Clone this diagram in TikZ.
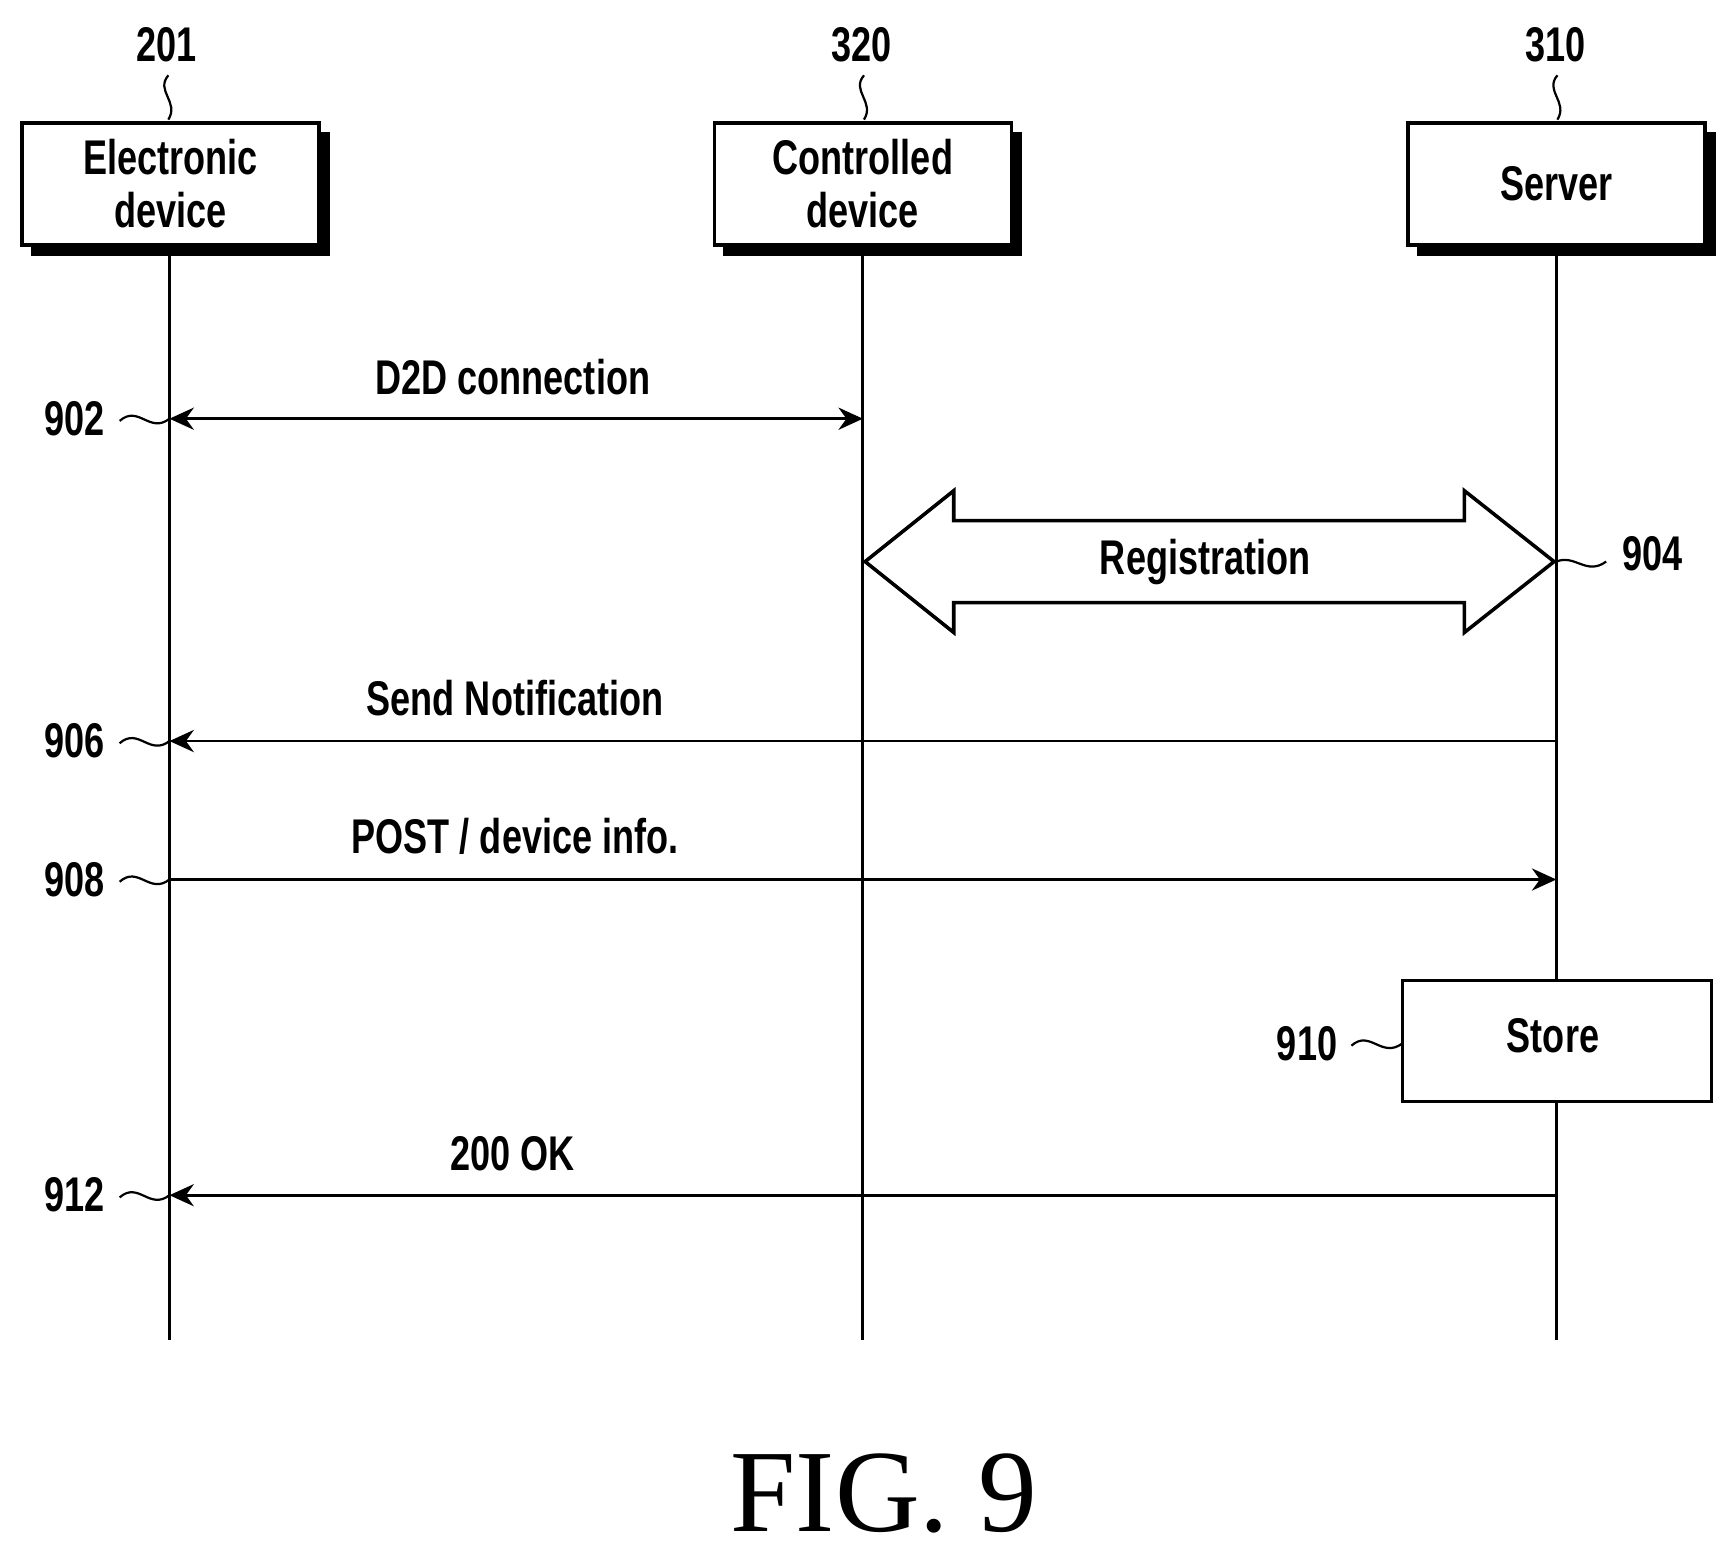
\documentclass[tikz,border=0pt]{standalone}
\usetikzlibrary{arrows.meta}
\usepackage{fontspec}
\setmainfont{Liberation Sans}[FakeStretch=0.74,BoldFeatures={FakeStretch=0.74}]
\newfontfamily\figfont{Liberation Serif}
\begin{document}
\begin{tikzpicture}[x=0.5pt,y=-0.5pt,line width=1.3pt,
  box/.style={draw,line width=1.6pt,fill=white,minimum width=134pt,minimum height=55pt,align=center,font=\bfseries\fontsize{22}{24}\selectfont,inner sep=0pt},
  lbl/.style={font=\bfseries\fontsize{22}{24}\selectfont,inner sep=1pt},
  msg/.style={-{Stealth[length=11pt,width=10pt]},line width=1.3pt},
  tl/.style={line width=1pt}]
\useasboundingbox (0,0) rectangle (1560,1402);
% shadows + boxes
\foreach \x in {154,779,1405}{\fill (\x-126,119) rectangle (\x+144,231);}
\node[box] (ed) at (154,166) {Electronic\\device};
\node[box] (cd) at (779,166) {Controlled\\device};
\node[box] (sv) at (1405,166) {Server};
% lifelines
\coordinate (e0) at (153,221); \coordinate (e1) at (153,1210);
\coordinate (c0) at (779,221); \coordinate (c1) at (779,1210);
\coordinate (s0) at (1405,221); \coordinate (s1) at (1405,1210);
\draw (e0)--(e1); \draw (c0)--(c1); \draw (s0)--(s1);
% ref numbers on top
\node[lbl] (n201) at (150,40) {201};
\node[lbl] (n320) at (778,40) {320};
\node[lbl] (n310) at (1404,40) {310};
\draw[tl] (152,68) .. controls (140,82) and (162,92) .. (152,108);
\draw[tl] (780,68) .. controls (768,82) and (790,92) .. (780,108);
\draw[tl] (1406,68) .. controls (1394,82) and (1416,92) .. (1406,108);
% 902
\coordinate (m1a) at (153,378); \coordinate (m1b) at (779,378);
\draw[{Stealth[length=11pt,width=10pt]}-{Stealth[length=11pt,width=10pt]},line width=1.3pt] (m1a)--(m1b);
\node[lbl] (t902) at (463,340) {D2D connection};
\node[lbl] (n902) at (67,378) {902};
\draw[tl] (108,380) .. controls (125,365) and (135,392) .. (153,378);
% 904 registration
\draw[line width=1.6pt,fill=white] (781,507) -- (861,443) -- (861,470) -- (1322,470) -- (1322,443) -- (1403,507) -- (1322,571) -- (1322,544) -- (861,544) -- (861,571) -- cycle;
\node[lbl] (reg) at (1088,507) {Registration};
\node[lbl] (n904) at (1492,500) {904};
\draw[tl] (1405,507) .. controls (1422,500) and (1432,520) .. (1450,507);
% 906
\coordinate (m3a) at (1405,669); \coordinate (m3b) at (153,669);
\draw[msg] (m3a)--(m3b);
\node[lbl] (t906) at (465,630) {Send Notification};
\node[lbl] (n906) at (67,669) {906};
\draw[tl] (108,671) .. controls (125,656) and (135,683) .. (153,669);
% 908
\coordinate (m4a) at (153,794); \coordinate (m4b) at (1405,794);
\draw[msg] (m4a)--(m4b);
\node[lbl] (t908) at (465,755) {POST / device info.};
\node[lbl] (n908) at (67,794) {908};
\draw[tl] (108,796) .. controls (125,781) and (135,808) .. (153,794);
% 910 store
\node[draw,line width=1.4pt,fill=white,minimum width=139.5pt,minimum height=54.5pt,inner sep=0pt] (st) at (1405.5,939.5) {};
\node[lbl] (tst) at (1402,935) {Store};
\node[lbl] (n910) at (1180,942) {910};
\draw[tl] (1220,944) .. controls (1237,929) and (1247,956) .. (1266,942);
% 912
\coordinate (m5a) at (1405,1079); \coordinate (m5b) at (153,1079);
\draw[msg] (m5a)--(m5b);
\node[lbl] (t912) at (463,1042) {200 OK};
\node[lbl] (n912) at (67,1079) {912};
\draw[tl] (108,1081) .. controls (125,1066) and (135,1093) .. (153,1079);
% caption
\node[font=\figfont\fontsize{53}{56}\selectfont] (fig) at (798,1348) {FIG. 9};
\end{tikzpicture}
\end{document}
